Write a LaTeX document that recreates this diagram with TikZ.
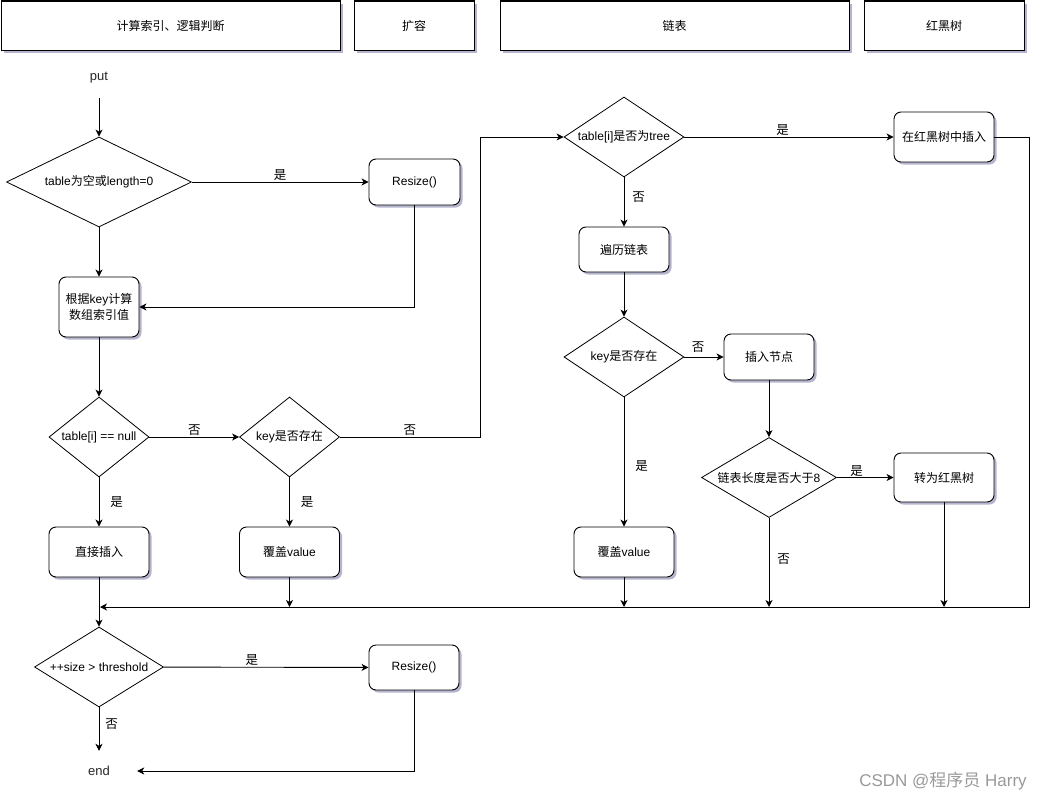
\documentclass[tikz,border=0pt]{standalone}
\usepackage{fontspec}
\setmainfont{Liberation Sans}
\newfontfamily\cjk{Noto Sans CJK SC}
\usetikzlibrary{shapes.geometric,arrows.meta,shadows}
\newcommand\zh[1]{{\cjk #1}}
\definecolor{shade}{RGB}{140,140,180}
\begin{document}
\begin{tikzpicture}[x=1pt,y=-1pt,
  every node/.style={font=\fontsize{12}{16}\selectfont},
  myshadow/.style={drop shadow={shadow xshift=2.5pt,shadow yshift=-2.5pt,fill=shade,opacity=0.65}},
  hdr/.style={draw,line width=1pt,fill=white,minimum height=49pt,inner sep=0pt,myshadow},
  box/.style={draw,line width=0.9pt,rounded corners=7pt,fill=white,inner sep=0pt,align=center,myshadow},
  dec/.style={diamond,draw,line width=0.8pt,fill=white,inner sep=0pt},
  term/.style={minimum width=76pt,minimum height=40pt,inner sep=0pt,text=black!85,font=\fontsize{13}{16}\selectfont},
  arr/.style={line width=0.9pt,-{Stealth[length=7pt,width=7pt,inset=2pt]}},
  lbl/.style={inner sep=1pt,font=\cjk\fontsize{12.5}{14}\selectfont}
]
\useasboundingbox (0,0) rectangle (1050,803);

% headers
\node[hdr,minimum width=339pt] (h1) at (170.5,25.5) {\zh{计算索引、逻辑判断}};
\node[hdr,minimum width=120pt] (h2) at (414,25.5) {\zh{扩容}};
\node[hdr,minimum width=349pt] (h3) at (674.5,25.5) {\zh{链表}};
\node[hdr,minimum width=160pt] (h4) at (944,25.5) {\zh{红黑树}};

% left column
\node[term] (put) at (99,78) {put};
\node[dec,minimum width=185pt,minimum height=90pt,shape aspect=2] (d1) at (99,182) {table\zh{为空或}length=0};
\node[box,minimum width=91pt,minimum height=46pt] (r1) at (414.5,182) {Resize()};
\node[box,minimum width=80pt,minimum height=60pt] (calc) at (99,307) {\zh{根据}key\zh{计算}\\\zh{数组索引值}};
\node[dec,minimum width=100pt,minimum height=80pt,shape aspect=1.25] (d2) at (99,437) {table[i] == null};
\node[dec,minimum width=100pt,minimum height=80pt,shape aspect=1.25] (d3) at (289.5,437) {key\zh{是否存在}};
\node[box,minimum width=100pt,minimum height=50pt] (ins1) at (99,552) {\zh{直接插入}};
\node[box,minimum width=100pt,minimum height=50pt] (cov1) at (289.5,552) {\zh{覆盖}value};
\node[dec,minimum width=129pt,minimum height=80pt,shape aspect=1.6] (d6) at (99,667) {++size > threshold};
\node[box,minimum width=90pt,minimum height=45pt] (r2) at (414,667.5) {Resize()};
\node[term] (end) at (99,771) {end};

% right part
\node[dec,minimum width=120pt,minimum height=80pt,shape aspect=1.5] (dt) at (624,137) {table[i]\zh{是否为}tree};
\node[box,minimum width=100pt,minimum height=50pt] (rbi) at (944,137) {\zh{在红黑树中插入}};
\node[box,minimum width=90pt,minimum height=45pt] (trav) at (624,249.5) {\zh{遍历链表}};
\node[dec,minimum width=120pt,minimum height=80pt,shape aspect=1.5] (dk) at (624,357) {key\zh{是否存在}};
\node[box,minimum width=90pt,minimum height=46pt] (insn) at (769,357) {\zh{插入节点}};
\node[dec,minimum width=135pt,minimum height=80pt,shape aspect=1.7] (dl) at (769,477.5) {\zh{链表长度是否大于}8};
\node[box,minimum width=100pt,minimum height=49pt] (tor) at (944,477.5) {\zh{转为红黑树}};
\node[box,minimum width=100pt,minimum height=50pt] (cov2) at (624,552) {\zh{覆盖}value};

% junction coordinates
\coordinate (j1) at (289.5,607);
\coordinate (j2) at (624,607);
\coordinate (j3) at (769,607);
\coordinate (j4) at (944,607);
\coordinate (jr) at (1029,607);
\coordinate (jl) at (100,607);
\coordinate (ja) at (480,437);
\coordinate (jb) at (480,137);
\coordinate (jc) at (1029,137);

% connectors
\draw[arr] (put) -- (d1);
\draw[arr] (d1) -- node[lbl,above] {是} (r1);
\draw[arr] (d1) -- (calc);
\draw[arr] (r1.south) |- (calc.east);
\draw[arr] (calc) -- (d2);
\draw[arr] (d2) -- node[lbl,above] {否} (d3);
\draw[arr] (d2) -- node[lbl,right=10pt] {是} (ins1);
\draw[arr] (d3) -- node[lbl,right=10pt] {是} (cov1);
\draw[arr] (d3.east) -- node[lbl,above] {否} (ja) -- (jb) -- (dt.west);
\draw[arr] (dt) -- node[lbl,above,pos=0.47] {是} (rbi);
\draw[arr] (dt) -- node[lbl,right=7pt,pos=0.4] {否} (trav);
\draw[arr] (trav) -- (dk);
\draw[arr] (dk) -- node[lbl,above=3pt,pos=0.35] {否} (insn);
\draw[arr] (dk) -- node[lbl,right=10pt,pos=0.53] {是} (cov2);
\draw[arr] (insn) -- (dl);
\draw[arr] (dl) -- node[lbl,above,pos=0.35] {是} (tor);
\draw[arr] (dl) -- node[lbl,right=7pt,pos=0.46] {否} (j3);
\draw[arr] (tor) -- (j4);
\draw[arr] (cov2) -- (j2);
\draw[arr] (cov1) -- (j1);
\draw[arr] (rbi.east) -- (jc) -- (jr) -- (jl);
\draw[arr] (ins1) -- (d6);
\draw[arr] (d6) -- node[lbl,above,pos=0.43] {是} (r2);
\draw[arr] (d6) -- node[lbl,right=5pt,pos=0.39] {否} (end);
\draw[arr] (r2.south) |- (end.east);

% watermark
\node[text=black!40,font=\fontsize{17}{20}\selectfont] (wm) at (943,781) {CSDN @\zh{程序员} Harry};
\end{tikzpicture}
\end{document}
